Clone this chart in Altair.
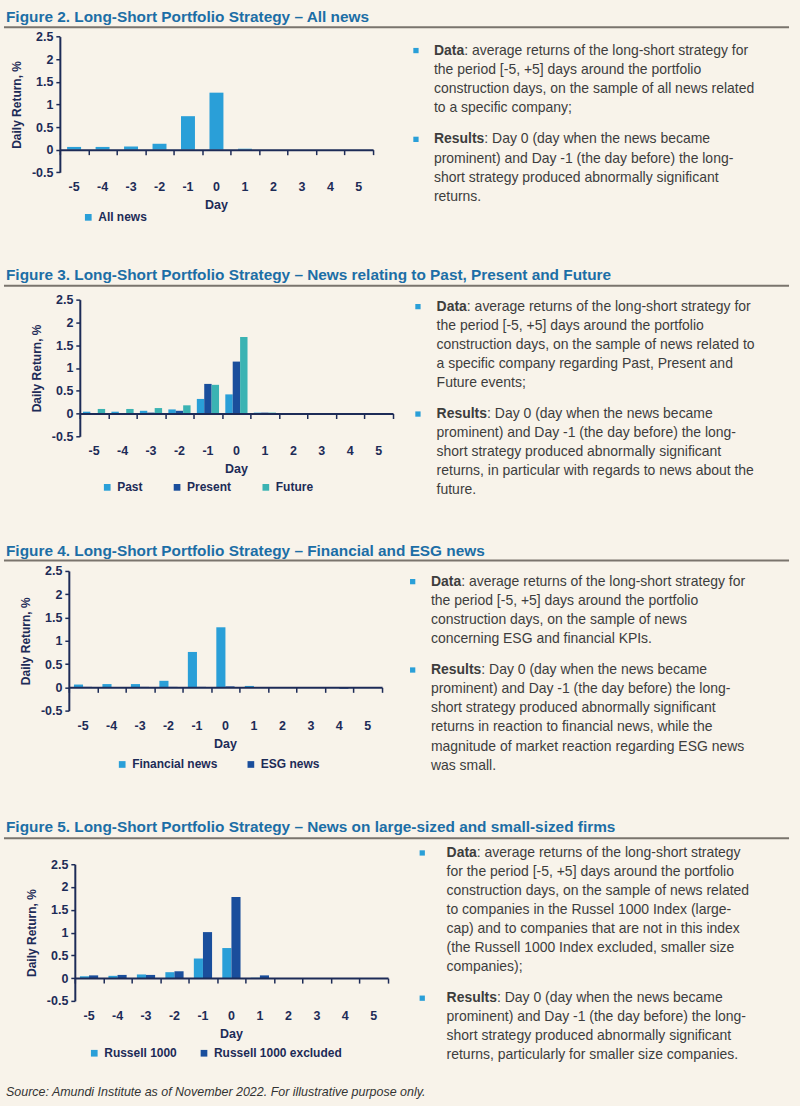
import altair as alt
import pandas as pd

# ---------------- data ----------------
days = [-5, -4, -3, -2, -1, 0, 1, 2, 3, 4, 5]

fig2_series = ["All news"]
fig2_all = [0.06, 0.06, 0.07, 0.13, 0.74, 1.26, 0.02, 0.0, 0.0, 0.0, 0.0]

fig3_series = ["Past", "Present", "Future"]
fig3_past = [0.04, 0.04, 0.06, 0.09, 0.32, 0.42, 0.02, 0.0, 0.0, 0.0, 0.0]
fig3_present = [0.01, 0.01, 0.02, 0.06, 0.65, 1.14, 0.02, 0.0, 0.0, 0.0, 0.0]
fig3_future = [0.10, 0.10, 0.12, 0.18, 0.63, 1.68, 0.02, 0.0, 0.0, 0.0, 0.0]

fig4_series = ["Financial news", "ESG news"]
fig4_fin = [0.06, 0.07, 0.07, 0.14, 0.76, 1.29, 0.03, 0.0, 0.0, 0.0, 0.0]
fig4_esg = [0.01, 0.0, 0.01, 0.01, 0.01, 0.02, 0.0, 0.0, 0.0, -0.03, 0.0]

fig5_series = ["Russell 1000", "Russell 1000 excluded"]
fig5_r1000 = [0.04, 0.05, 0.08, 0.13, 0.43, 0.66, 0.01, 0.0, 0.0, 0.0, 0.0]
fig5_excl = [0.06, 0.07, 0.07, 0.15, 1.01, 1.78, 0.06, 0.0, 0.0, 0.0, 0.0]

y_ticks = [-0.5, 0, 0.5, 1, 1.5, 2, 2.5]

titles = [
    "Figure 2. Long-Short Portfolio Strategy \u2013 All news",
    "Figure 3. Long-Short Portfolio Strategy \u2013 News relating to Past, Present and Future",
    "Figure 4. Long-Short Portfolio Strategy \u2013 Financial and ESG news",
    "Figure 5. Long-Short Portfolio Strategy \u2013 News on large-sized and small-sized firms",
]

fig2_data_text = [
    ": average returns of the long-short strategy for",
    "the period [-5, +5] days around the portfolio",
    "construction days, on the sample of all news related",
    "to a specific company;",
]
fig2_res_text = [
    ": Day 0 (day when the news became",
    "prominent) and Day -1 (the day before) the long-",
    "short strategy produced abnormally significant",
    "returns.",
]
fig3_data_text = [
    ": average returns of the long-short strategy for",
    "the period [-5, +5] days around the portfolio",
    "construction days, on the sample of news related to",
    "a specific company regarding Past, Present and",
    "Future events;",
]
fig3_res_text = [
    ": Day 0 (day when the news became",
    "prominent) and Day -1 (the day before) the long-",
    "short strategy produced abnormally significant",
    "returns, in particular with regards to news about the",
    "future.",
]
fig4_data_text = [
    ": average returns of the long-short strategy for",
    "the period [-5, +5] days around the portfolio",
    "construction days, on the sample of news",
    "concerning ESG and financial KPIs.",
]
fig4_res_text = [
    ": Day 0 (day when the news became",
    "prominent) and Day -1 (the day before) the long-",
    "short strategy produced abnormally significant",
    "returns in reaction to financial news, while the",
    "magnitude of market reaction regarding ESG news",
    "was small.",
]
fig5_data_text = [
    ": average returns of the long-short strategy",
    "for the period [-5, +5] days around the portfolio",
    "construction days, on the sample of news related",
    "to companies in the Russel 1000 Index (large-",
    "cap) and to companies that are not in this index",
    "(the Russell 1000 Index excluded, smaller size",
    "companies);",
]
fig5_res_text = [
    ": Day 0 (day when the news became",
    "prominent) and Day -1 (the day before) the long-",
    "short strategy produced abnormally significant",
    "returns, particularly for smaller size companies.",
]
source_text = "Source: Amundi Institute as of November 2022. For illustrative purpose only."

# ---------------- style ----------------
BG = "#f8f3ea"
NAVY = "#1d2b57"
TITLE_C = "#1c6ea6"
BODY_C = "#3d3d3d"
RULE_C = "#7a746d"
LIGHT = "#2a9fd8"
DARK = "#1a4e9c"
TEAL = "#3bb3b3"
FONT = "Liberation Sans"
BODY_FS = 14
AX_FS = 12.5
W = 314
BOLD_W = {"Data": 2.167, "Results": 3.612}  # em widths in Arial/Liberation bold
X_DOMAIN = [days[0] - 0.5, days[-1] + 0.5]
BOUNDARIES = [d - 0.5 for d in days] + [days[-1] + 0.5]


def section(sec_top, sec_h, left, H, plot_top, names, values, colors, gw,
            leg, colpad, title, title_bl, rule_y, text_args):
    pt = plot_top - sec_top
    n = len(names)
    rows = []
    for k, (s, vals) in enumerate(zip(names, values)):
        for d, v in zip(days, vals):
            rows.append({"day": d, "series": s, "idx": k, "value": v})
    df = pd.DataFrame(rows)

    def xscale():
        return alt.Scale(domain=X_DOMAIN, range=[left, left + W], nice=False, zero=False)

    zero_y = pt + H * 5 / 6
    xaxis = alt.Axis(values=BOUNDARIES, labels=False, title=None, domain=True,
                     domainColor=NAVY, domainWidth=2, ticks=True, tickColor=NAVY,
                     tickWidth=1.5, tickSize=5, offset=-(sec_h - zero_y), zindex=1,
                     grid=False)
    yaxis = alt.Axis(values=y_ticks, labelExpr="'' + datum.value", grid=False,
                     offset=-left, domainColor=NAVY, domainWidth=2, tickColor=NAVY,
                     tickWidth=1.5, tickSize=4, labelFontSize=AX_FS, labelFontWeight="bold",
                     labelColor=NAVY, labelPadding=3, title="Daily Return, %",
                     titleFontSize=12, titleFontWeight="bold", titleColor=NAVY,
                     titlePadding=8, labelFont=FONT, titleFont=FONT)
    bw = gw / n
    bars = alt.Chart(df).transform_calculate(
        x0=f"datum.day - {gw / 2} + datum.idx * {bw}",
        x1=f"datum.day - {gw / 2} + (datum.idx + 1) * {bw}",
    ).mark_bar().encode(
        x=alt.X("x0:Q", scale=xscale(), axis=xaxis),
        x2="x1:Q",
        y=alt.Y("value:Q", scale=alt.Scale(domain=[-0.5, 2.5], nice=False, zero=False,
                                           range=[pt + H, pt]), axis=yaxis),
        y2=alt.datum(0),
        color=alt.Color("series:N", sort=names,
                        scale=alt.Scale(domain=names, range=colors),
                        legend=alt.Legend(orient="none", legendX=leg[0], legendY=leg[1],
                                          direction="horizontal", title=None,
                                          symbolType="square", symbolSize=45,
                                          symbolStrokeWidth=0, labelFontSize=12,
                                          labelFontWeight="bold", labelColor=NAVY,
                                          labelFont=FONT, labelOffset=4,
                                          columnPadding=colpad, padding=0)),
    )
    labels = alt.Chart(pd.DataFrame({"day": days})).transform_calculate(
        lbl="'' + datum.day"
    ).mark_text(
        fontSize=AX_FS, fontWeight="bold", color=NAVY, baseline="middle", font=FONT
    ).encode(
        x=alt.X("day:Q", scale=xscale(), axis=None),
        y=alt.value(pt + H + 15),
        text="lbl:N",
    )
    day_t = alt.Chart(pd.DataFrame({"t": ["Day"]})).mark_text(
        fontSize=AX_FS, fontWeight="bold", color=NAVY, baseline="middle", font=FONT
    ).encode(x=alt.value(left + W / 2), y=alt.value(pt + H + 33), text="t:N")

    # header
    head = alt.Chart(pd.DataFrame({"t": [title]})).mark_text(
        align="left", baseline="alphabetic", fontSize=15.4, fontWeight="bold",
        color=TITLE_C, font=FONT
    ).encode(x=alt.value(5), y=alt.value(title_bl - sec_top), text="t:N")
    rule = alt.Chart(pd.DataFrame({"a": [0]})).mark_rule(color=RULE_C, strokeWidth=2).encode(
        x=alt.value(3), x2=alt.value(790), y=alt.value(rule_y - sec_top)
    )

    # text panel
    bx, tx, data_lines, d0, res_lines, r0, step = text_args
    rows_b, rows_n, bul = [], [], []
    for label, lines, y0 in (("Data", data_lines, d0), ("Results", res_lines, r0)):
        bul.append({"x": bx, "y": y0 - sec_top})
        rows_b.append({"x": tx, "y": y0 - sec_top, "t": label})
        for i, line in enumerate(lines):
            x = tx + (BOLD_W[label] * BODY_FS if i == 0 else 0)
            rows_n.append({"x": x, "y": y0 - sec_top + i * step, "t": line})

    def xe():
        return alt.X("x:Q", scale=alt.Scale(domain=[0, 800], range=[0, 800], nice=False,
                                            zero=False), axis=None)

    def ye():
        return alt.Y("y:Q", scale=alt.Scale(domain=[0, sec_h], range=[0, sec_h], nice=False,
                                            zero=False), axis=None)

    bold = alt.Chart(pd.DataFrame(rows_b)).mark_text(
        align="left", baseline="middle", fontSize=BODY_FS, fontWeight="bold",
        color=BODY_C, font=FONT).encode(x=xe(), y=ye(), text="t:N")
    norm = alt.Chart(pd.DataFrame(rows_n)).mark_text(
        align="left", baseline="middle", fontSize=BODY_FS, color=BODY_C,
        font=FONT).encode(x=xe(), y=ye(), text="t:N")
    sq = alt.Chart(pd.DataFrame(bul)).mark_square(size=28, color=LIGHT, opacity=1).encode(
        x=xe(), y=ye())

    return alt.layer(bars, labels, day_t, head, rule, norm, bold, sq).resolve_scale(
        x="independent", y="independent"
    ).resolve_axis(x="independent", y="independent").properties(width=800, height=sec_h)


s1 = section(0, 262, 59, 136, 34.3, fig2_series, [fig2_all], [LIGHT], 0.49,
             (81.5, 209.5), 28, titles[0], 19.5, 25,
             (416, 434, fig2_data_text, 48.3, fig2_res_text, 137.3, 19.3))
s2 = section(262, 278, 79, 137, 298, fig3_series, [fig3_past, fig3_present, fig3_future],
             [LIGHT, DARK, TEAL], 0.78, (100.5, 218.2), 28, titles[1], 278, 284,
             (418, 436.7, fig3_data_text, 305, fig3_res_text, 412.7, 19.1))
s3 = section(540, 274, 68, 140, 570, fig4_series, [fig4_fin, fig4_esg], [LIGHT, DARK],
             0.64, (115.5, 218), 27, titles[2], 555, 559.5,
             (412.7, 431, fig4_data_text, 580.7, fig4_res_text, 669.3, 19.2))
s4 = section(814, 261, 74, 137, 864, fig5_series, [fig5_r1000, fig5_excl], [LIGHT, DARK],
             0.64, (87.5, 233.5), 21, titles[3], 832, 838,
             (422.3, 446.7, fig5_data_text, 852.7, fig5_res_text, 998.3, 19))

footer = alt.Chart(pd.DataFrame({"t": [source_text]})).mark_text(
    align="left", baseline="alphabetic", fontSize=12.5, fontStyle="italic",
    color="#333333", font=FONT
).encode(x=alt.value(5), y=alt.value(21.5), text="t:N").properties(width=800, height=31)

chart = alt.vconcat(s1, s2, s3, s4, footer, spacing=0, bounds="flush").resolve_scale(
    color="independent"
).properties(padding=0).configure(background=BG, font=FONT).configure_view(
    stroke="transparent")

chart.save("out.html", embed_options={"renderer": "svg", "actions": False})
